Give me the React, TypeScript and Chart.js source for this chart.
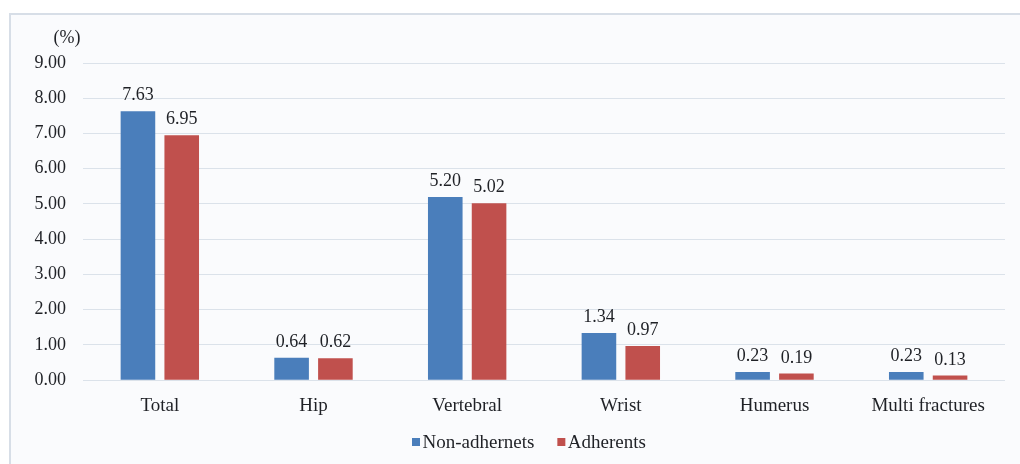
import React, { useEffect, useRef } from "react";
import { Chart, registerables } from "chart.js";

Chart.register(...registerables);

const categories = ["Total", "Hip", "Vertebral", "Wrist", "Humerus", "Multi fractures"];
const nonAdherents = [7.63, 0.64, 5.2, 1.34, 0.23, 0.23];
const adherents = [6.95, 0.62, 5.02, 0.97, 0.19, 0.13];
const seriesNames = ["Non-adhernets", "Adherents"];
const seriesColors = ["#4a7ebb", "#c0504d"];
const yTicks = [0, 1, 2, 3, 4, 5, 6, 7, 8, 9];
const unitLabel = "(%)";

const FONT = "'Liberation Serif', 'Times New Roman', serif";
const TEXT = "#1f2126";

export default function App() {
  const ref = useRef<HTMLCanvasElement>(null);
  useEffect(() => {
    const extras = {
      id: "extras",
      afterDatasetsDraw(chart: any) {
        const ctx = chart.ctx;
        ctx.save();
        ctx.font = `18px ${FONT}`;
        ctx.fillStyle = TEXT;
        ctx.textAlign = "center";
        ctx.textBaseline = "alphabetic";
        chart.data.datasets.forEach((ds: any, i: number) => {
          const meta = chart.getDatasetMeta(i);
          meta.data.forEach((bar: any, j: number) => {
            ctx.fillText(Number(ds.data[j]).toFixed(2), bar.x, bar.y - 11);
          });
        });
        const y = chart.scales.y;
        ctx.fillText(unitLabel, 56, y.top - 20);
        // legend
        ctx.font = `19px ${FONT}`;
        ctx.textAlign = "left";
        ctx.textBaseline = "middle";
        const ly = chart.height - 22;
        const gapItems = 23;
        let x = 401;
        seriesNames.forEach((n, i) => {
          ctx.fillStyle = seriesColors[i];
          ctx.fillRect(x, ly - 4, 8, 8);
          ctx.fillStyle = TEXT;
          ctx.fillText(n, x + 10.5, ly + 1);
          x += 10.5 + ctx.measureText(n).width + gapItems;
        });
        ctx.restore();
      },
    };
    const chart = new Chart(ref.current!, {
      type: "bar",
      data: {
        labels: categories,
        datasets: [
          { label: seriesNames[0], data: nonAdherents, backgroundColor: seriesColors[0], borderWidth: 0 },
          { label: seriesNames[1], data: adherents, backgroundColor: seriesColors[1], borderWidth: 0 },
        ],
      },
      options: {
        animation: false,
        responsive: false,
        maintainAspectRatio: false,
        layout: { padding: { top: 48, right: 6, left: 0, bottom: 41 } },
        datasets: { bar: { categoryPercentage: 0.57, barPercentage: 0.79 } },
        plugins: {
          tooltip: { enabled: false },
          legend: { display: false },
        },
        scales: {
          x: {
            grid: { display: false },
            border: { display: false },
            ticks: { font: { family: FONT, size: 19 }, color: TEXT, padding: 6 },
          },
          y: {
            min: 0,
            max: 9,
            afterBuildTicks(scale: any) {
              scale.ticks = yTicks.map((v) => ({ value: v }));
            },
            afterFit(scale: any) {
              scale.width = 72;
            },
            grid: { color: "#dbe2ea", drawTicks: false },
            border: { display: false },
            ticks: {
              font: { family: FONT, size: 18 },
              color: TEXT,
              padding: 17,
              callback: (v: any) => Number(v).toFixed(2),
            },
          },
        },
      },
      plugins: [extras],
    });
    return () => chart.destroy();
  }, []);
  return (
    <div style={{ position: "fixed", left: 0, top: 0, width: 1020, height: 464, background: "#ffffff", overflow: "hidden" }}>
      <div
        style={{
          position: "absolute",
          left: 9,
          top: 13,
          width: 1030,
          height: 470,
          border: "2px solid #d7dee7",
          background: "#fafbfd",
        }}
      >
        <canvas ref={ref} width={1000} height={449} style={{ display: "block" }} />
      </div>
    </div>
  );
}
